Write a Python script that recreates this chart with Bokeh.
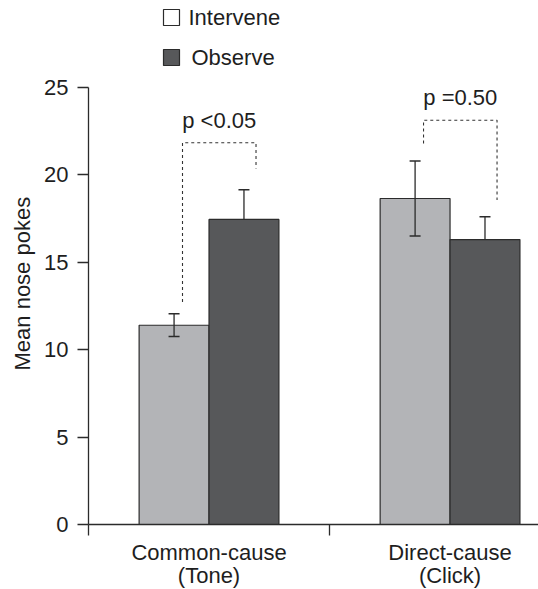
from bokeh.plotting import figure
from bokeh.layouts import column
from bokeh.models import Range1d, FixedTicker, Title
from bokeh.core.properties import value
from bokeh.embed import file_html
from bokeh.resources import INLINE

# ---- data ----
categories = ["Common-cause\n(Tone)", "Direct-cause\n(Click)"]
series = ["Intervene", "Observe"]
intervene_mean = [11.4, 18.65]
intervene_sem = [0.65, 2.15]
observe_mean = [17.45, 16.3]
observe_sem = [1.7, 1.3]
p_labels = ["p <0.05", "p =0.50"]
bracket_left_bottom = [12.73, 21.8]
bracket_right_bottom = [20.37, 18.56]
bracket_top = [21.84, 23.13]
y_ticks = [0, 5, 10, 15, 20, 25]
y_label = "Mean nose pokes"

# ---- styles ----
FONT = "Liberation Sans"
FS = "22px"
LIGHT = "#b3b4b7"
DARK = "#57585a"
INK = "#2b2b2b"
TXT = "#1e1e1e"
LEFT = 88          # left border of the plotting frame (px)
FRAME_W = 450

# ---------------- legend strip (separate small figure, frame aligned with chart) ----------------
LEG_H = 70
leg = figure(width=LEFT + FRAME_W, height=LEG_H,
             x_range=Range1d(LEFT, LEFT + FRAME_W), y_range=Range1d(LEG_H, 0),
             output_backend="svg", toolbar_location=None,
             x_axis_type=None, y_axis_type=None, min_border=0)
leg.grid.visible = False
leg.outline_line_color = None
leg_fill = ["white", DARK]
leg_y = [17, 57]
leg.scatter(x=[171, 171], y=leg_y, marker="square", size=16,
            fill_color=leg_fill, line_color=INK, line_width=1.2)
leg.text(x=[188, 191], y=leg_y, text=series, text_baseline="middle", text_align="left",
         text_font=value(FONT), text_font_size=FS, text_color=TXT)

# ---------------- main chart ----------------
centers = [i + 0.5 for i in range(len(categories))]
off = 0.145
bw = 0.29
xi = [c - off for c in centers]
xo = [c + off for c in centers]

p = figure(frame_width=FRAME_W, frame_height=437,
           x_range=Range1d(0, 1.867), y_range=Range1d(0, 25),
           output_backend="svg", toolbar_location=None,
           min_border_left=LEFT, min_border_right=0,
           min_border_top=17, min_border_bottom=65)
p.grid.visible = False
p.outline_line_color = None

# x axis: labels at category centres, tick marks at boundaries (minor ticks)
xa = p.xaxis[0]
xa.ticker = FixedTicker(ticks=centers, minor_ticks=list(range(len(categories) + 1)))
xa.major_label_overrides = {c: lab for c, lab in zip(centers, categories)}
xa.major_tick_line_color = None
xa.major_tick_out = 0
xa.major_tick_in = 0
xa.minor_tick_in = 0
xa.minor_tick_out = 11
xa.minor_tick_line_color = INK
xa.minor_tick_line_width = 1.3
xa.axis_line_color = INK
xa.axis_line_width = 1.3
xa.major_label_text_font = FONT
xa.major_label_text_font_size = FS
xa.major_label_text_color = TXT
xa.major_label_text_line_height = 0.94
xa.major_label_standoff = 4

ya = p.yaxis[0]
ya.ticker = FixedTicker(ticks=y_ticks, minor_ticks=[])
ya.major_tick_in = 0
ya.major_tick_out = 11
ya.major_tick_line_color = INK
ya.major_tick_line_width = 1.3
ya.axis_line_color = INK
ya.axis_line_width = 1.3
ya.major_label_text_font = FONT
ya.major_label_text_font_size = FS
ya.major_label_text_color = TXT
ya.major_label_standoff = 9

# y axis title (starts higher than the frame centre, like the original)
p.add_layout(Title(text=y_label, align="left", offset=154, standoff=14,
                   text_font=FONT, text_font_size=FS, text_font_style="normal",
                   text_color=TXT), "left")

# bars
p.vbar(x=xi, top=intervene_mean, bottom=0, width=bw,
       fill_color=LIGHT, line_color=INK, line_width=1.2)
p.vbar(x=xo, top=observe_mean, bottom=0, width=bw,
       fill_color=DARK, line_color=INK, line_width=1.2)

# error bars
i_up = [m + s for m, s in zip(intervene_mean, intervene_sem)]
i_lo = [m - s for m, s in zip(intervene_mean, intervene_sem)]
o_up = [m + s for m, s in zip(observe_mean, observe_sem)]
p.segment(x0=xi, y0=i_lo, x1=xi, y1=i_up, line_color=INK, line_width=1.3)
p.scatter(x=xi + xi, y=i_up + i_lo, marker="dash", size=11,
          line_color=INK, line_width=1.5)
p.segment(x0=xo, y0=observe_mean, x1=xo, y1=o_up, line_color=INK, line_width=1.3)
p.scatter(x=xo, y=o_up, marker="dash", size=11, line_color=INK, line_width=1.5)

# significance brackets
bl = [x + 0.035 for x in xi]
br = [x + 0.05 for x in xo]
p.multi_line(xs=[[a, a, b, b] for a, b in zip(bl, br)],
             ys=[[lb, t, t, rb] for lb, t, rb in zip(bracket_left_bottom, bracket_top, bracket_right_bottom)],
             line_color="#333333", line_width=1.1, line_dash="3 3")
p.text(x=[(a + b) / 2 for a, b in zip(bl, br)], y=[t + 1.3 for t in bracket_top],
       text=p_labels, text_align="center", text_baseline="alphabetic",
       text_font=value(FONT), text_font_size=FS, text_color=TXT)

layout = column(leg, p, spacing=0)
open("out.html", "w").write(file_html(layout, INLINE))
